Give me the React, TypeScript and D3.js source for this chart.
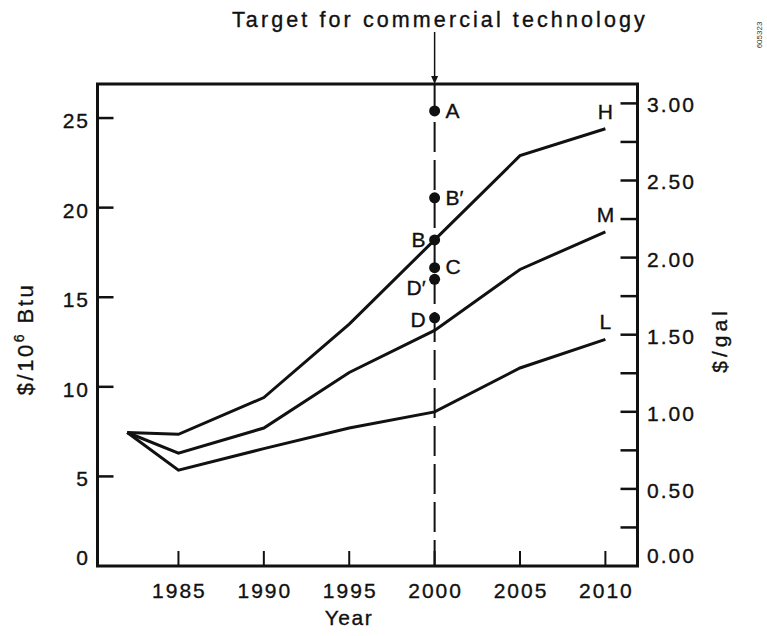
import * as d3 from "d3";

// Projected fuel cost, $/10^6 Btu, for the three price cases
const years = [1982, 1985, 1990, 1995, 2000, 2005, 2010];
const highCase = [7.45, 7.35, 9.4, 13.5, 18.2, 22.9, 24.4];
const midCase = [7.45, 6.3, 7.7, 10.8, 13.15, 16.55, 18.65];
const lowCase = [7.45, 5.35, 6.55, 7.7, 8.6, 11.05, 12.65];
const caseNames = ["H", "M", "L"];

// technology cost targets in the year 2000
const targetYear = 2000;
const targetNames = ["A", "B\u2032", "B", "C", "D\u2032", "D"];
const targetCosts = [25.4, 20.55, 18.2, 16.65, 16.0, 13.85];

const btuTicks = [0, 5, 10, 15, 20, 25];
const galTicks = [0, 0.5, 1, 1.5, 2, 2.5, 3];
const galMinorTicks = [0.25, 0.75, 1.25, 1.75, 2.25, 2.75];
const yearTicks = [1985, 1990, 1995, 2000, 2005, 2010];

// $/gal = $/10^6 Btu * 0.1162 (about 116,000 Btu per gallon)
const galPerBtu = 0.1162;

const width = 767;
const height = 636;
const left = 97.5;
const right = 637.5;
const top = 84;
const bottom = 566;
const font = "'Liberation Sans', Arial, Helvetica, sans-serif";
const ink = "#111";

// which side the target label sits on, and its baseline offset
const labelSide = ["r", "r", "l", "r", "l", "l"];
const labelDy = [7.6, 7.7, 6.7, 6.6, 15.7, 9];

export default function App() {
  const x = d3.scaleLinear([1980.26, 2011.88], [left, right]);
  const y = d3.scaleLinear([0, 26.9], [bottom, top]);
  const yGal = d3.scaleLinear([0, 26.9 * galPerBtu], [bottom, top]);

  const line = d3
    .line<number>()
    .x((_, i) => x(years[i]))
    .y((d) => y(d));

  const series = [highCase, midCase, lowCase];
  const tx = x(targetYear);
  // slightly heavier text, like the scanned original
  const textInk = { fill: ink, stroke: ink, strokeWidth: 0.35 };

  return (
    <svg
      width={width}
      height={height}
      style={{ position: "absolute", left: 0, top: 0, background: "#fff" }}
      fontFamily={font}
    >
      <rect width={width} height={height} fill="#fff" />

      {/* title and arrow */}
      <text x={232} y={27} fontSize={21.5} letterSpacing={3.1} {...textInk}>
        Target for commercial technology
      </text>
      <line x1={tx} x2={tx} y1={32} y2={80} stroke={ink} strokeWidth={1.5} />
      <path
        d={`M${tx - 3.5},${top - 8} L${tx + 3.5},${top - 8} L${tx},${top} Z`}
        fill={ink}
      />

      {/* target year dashed line */}
      <line
        x1={tx}
        x2={tx}
        y1={top}
        y2={bottom}
        stroke={ink}
        strokeWidth={2}
        strokeDasharray="30 8"
      />

      {/* cost cases */}
      {series.map((s, i) => (
        <g key={caseNames[i]}>
          <path d={line(s) as string} fill="none" stroke={ink} strokeWidth={3} />
          <text
            x={x(years[years.length - 1])}
            y={y(s[s.length - 1]) - 10}
            textAnchor="middle"
            fontSize={21}
            {...textInk}
          >
            {caseNames[i]}
          </text>
        </g>
      ))}

      {/* technology targets */}
      {targetCosts.map((c, i) => (
        <g key={targetNames[i]}>
          <circle cx={tx} cy={y(c)} r={5.5} fill={ink} />
          <text
            x={labelSide[i] === "r" ? tx + 11 : tx - 9}
            y={y(c) + labelDy[i]}
            textAnchor={labelSide[i] === "r" ? "start" : "end"}
            fontSize={21}
            {...textInk}
          >
            {targetNames[i]}
          </text>
        </g>
      ))}

      {/* frame */}
      <rect
        x={left}
        y={top}
        width={right - left}
        height={bottom - top}
        fill="none"
        stroke={ink}
        strokeWidth={3}
      />

      {/* left axis */}
      {btuTicks.map((t) => (
        <g key={"b" + t}>
          {t > 0 && (
            <line
              x1={left}
              x2={left + 16}
              y1={y(t)}
              y2={y(t)}
              stroke={ink}
              strokeWidth={2.5}
            />
          )}
          <text
            x={90}
            y={t === 0 ? bottom - 1 : y(t) + 10}
            textAnchor="end"
            fontSize={21}
            letterSpacing={2}
            {...textInk}
          >
            {t}
          </text>
        </g>
      ))}

      {/* right axis */}
      {galMinorTicks.map((t) => (
        <line
          key={"m" + t}
          x1={right - 17}
          x2={right}
          y1={yGal(t)}
          y2={yGal(t)}
          stroke={ink}
          strokeWidth={2.5}
        />
      ))}
      {galTicks.map((t) => (
        <g key={"g" + t}>
          {t > 0 && (
            <line
              x1={right - 17}
              x2={right}
              y1={yGal(t)}
              y2={yGal(t)}
              stroke={ink}
              strokeWidth={2.5}
            />
          )}
          <text
            x={647}
            y={t === 0 ? bottom - 3 : yGal(t) + 9}
            fontSize={21}
            letterSpacing={2}
            {...textInk}
          >
            {d3.format(".2f")(t)}
          </text>
        </g>
      ))}

      {/* bottom axis */}
      {yearTicks.map((t) => (
        <g key={"y" + t}>
          <line
            x1={x(t)}
            x2={x(t)}
            y1={bottom - 15}
            y2={bottom}
            stroke={ink}
            strokeWidth={2}
          />
          <text
            x={x(t) + 1}
            y={598}
            textAnchor="middle"
            fontSize={21}
            letterSpacing={2}
            {...textInk}
          >
            {t}
          </text>
        </g>
      ))}

      {/* axis titles */}
      <text
        x={349}
        y={625}
        textAnchor="middle"
        fontSize={21}
        letterSpacing={1.5}
        {...textInk}
      >
        Year
      </text>
      <text
        transform="translate(33,339) rotate(-90)"
        textAnchor="middle"
        fontSize={22}
        letterSpacing={2.5}
        {...textInk}
      >
        $/10
        <tspan fontSize={14} dy={-9}>
          6
        </tspan>
        <tspan dy={9}> Btu</tspan>
      </text>
      <text
        transform="translate(727,340) rotate(-90)"
        textAnchor="middle"
        fontSize={21}
        letterSpacing={4}
        {...textInk}
      >
        $/gal
      </text>

      {/* plate number */}
      <text
        transform="translate(762,35) rotate(-90)"
        textAnchor="middle"
        fontSize={8}
        fill="#333"
      >
        605323
      </text>
    </svg>
  );
}
